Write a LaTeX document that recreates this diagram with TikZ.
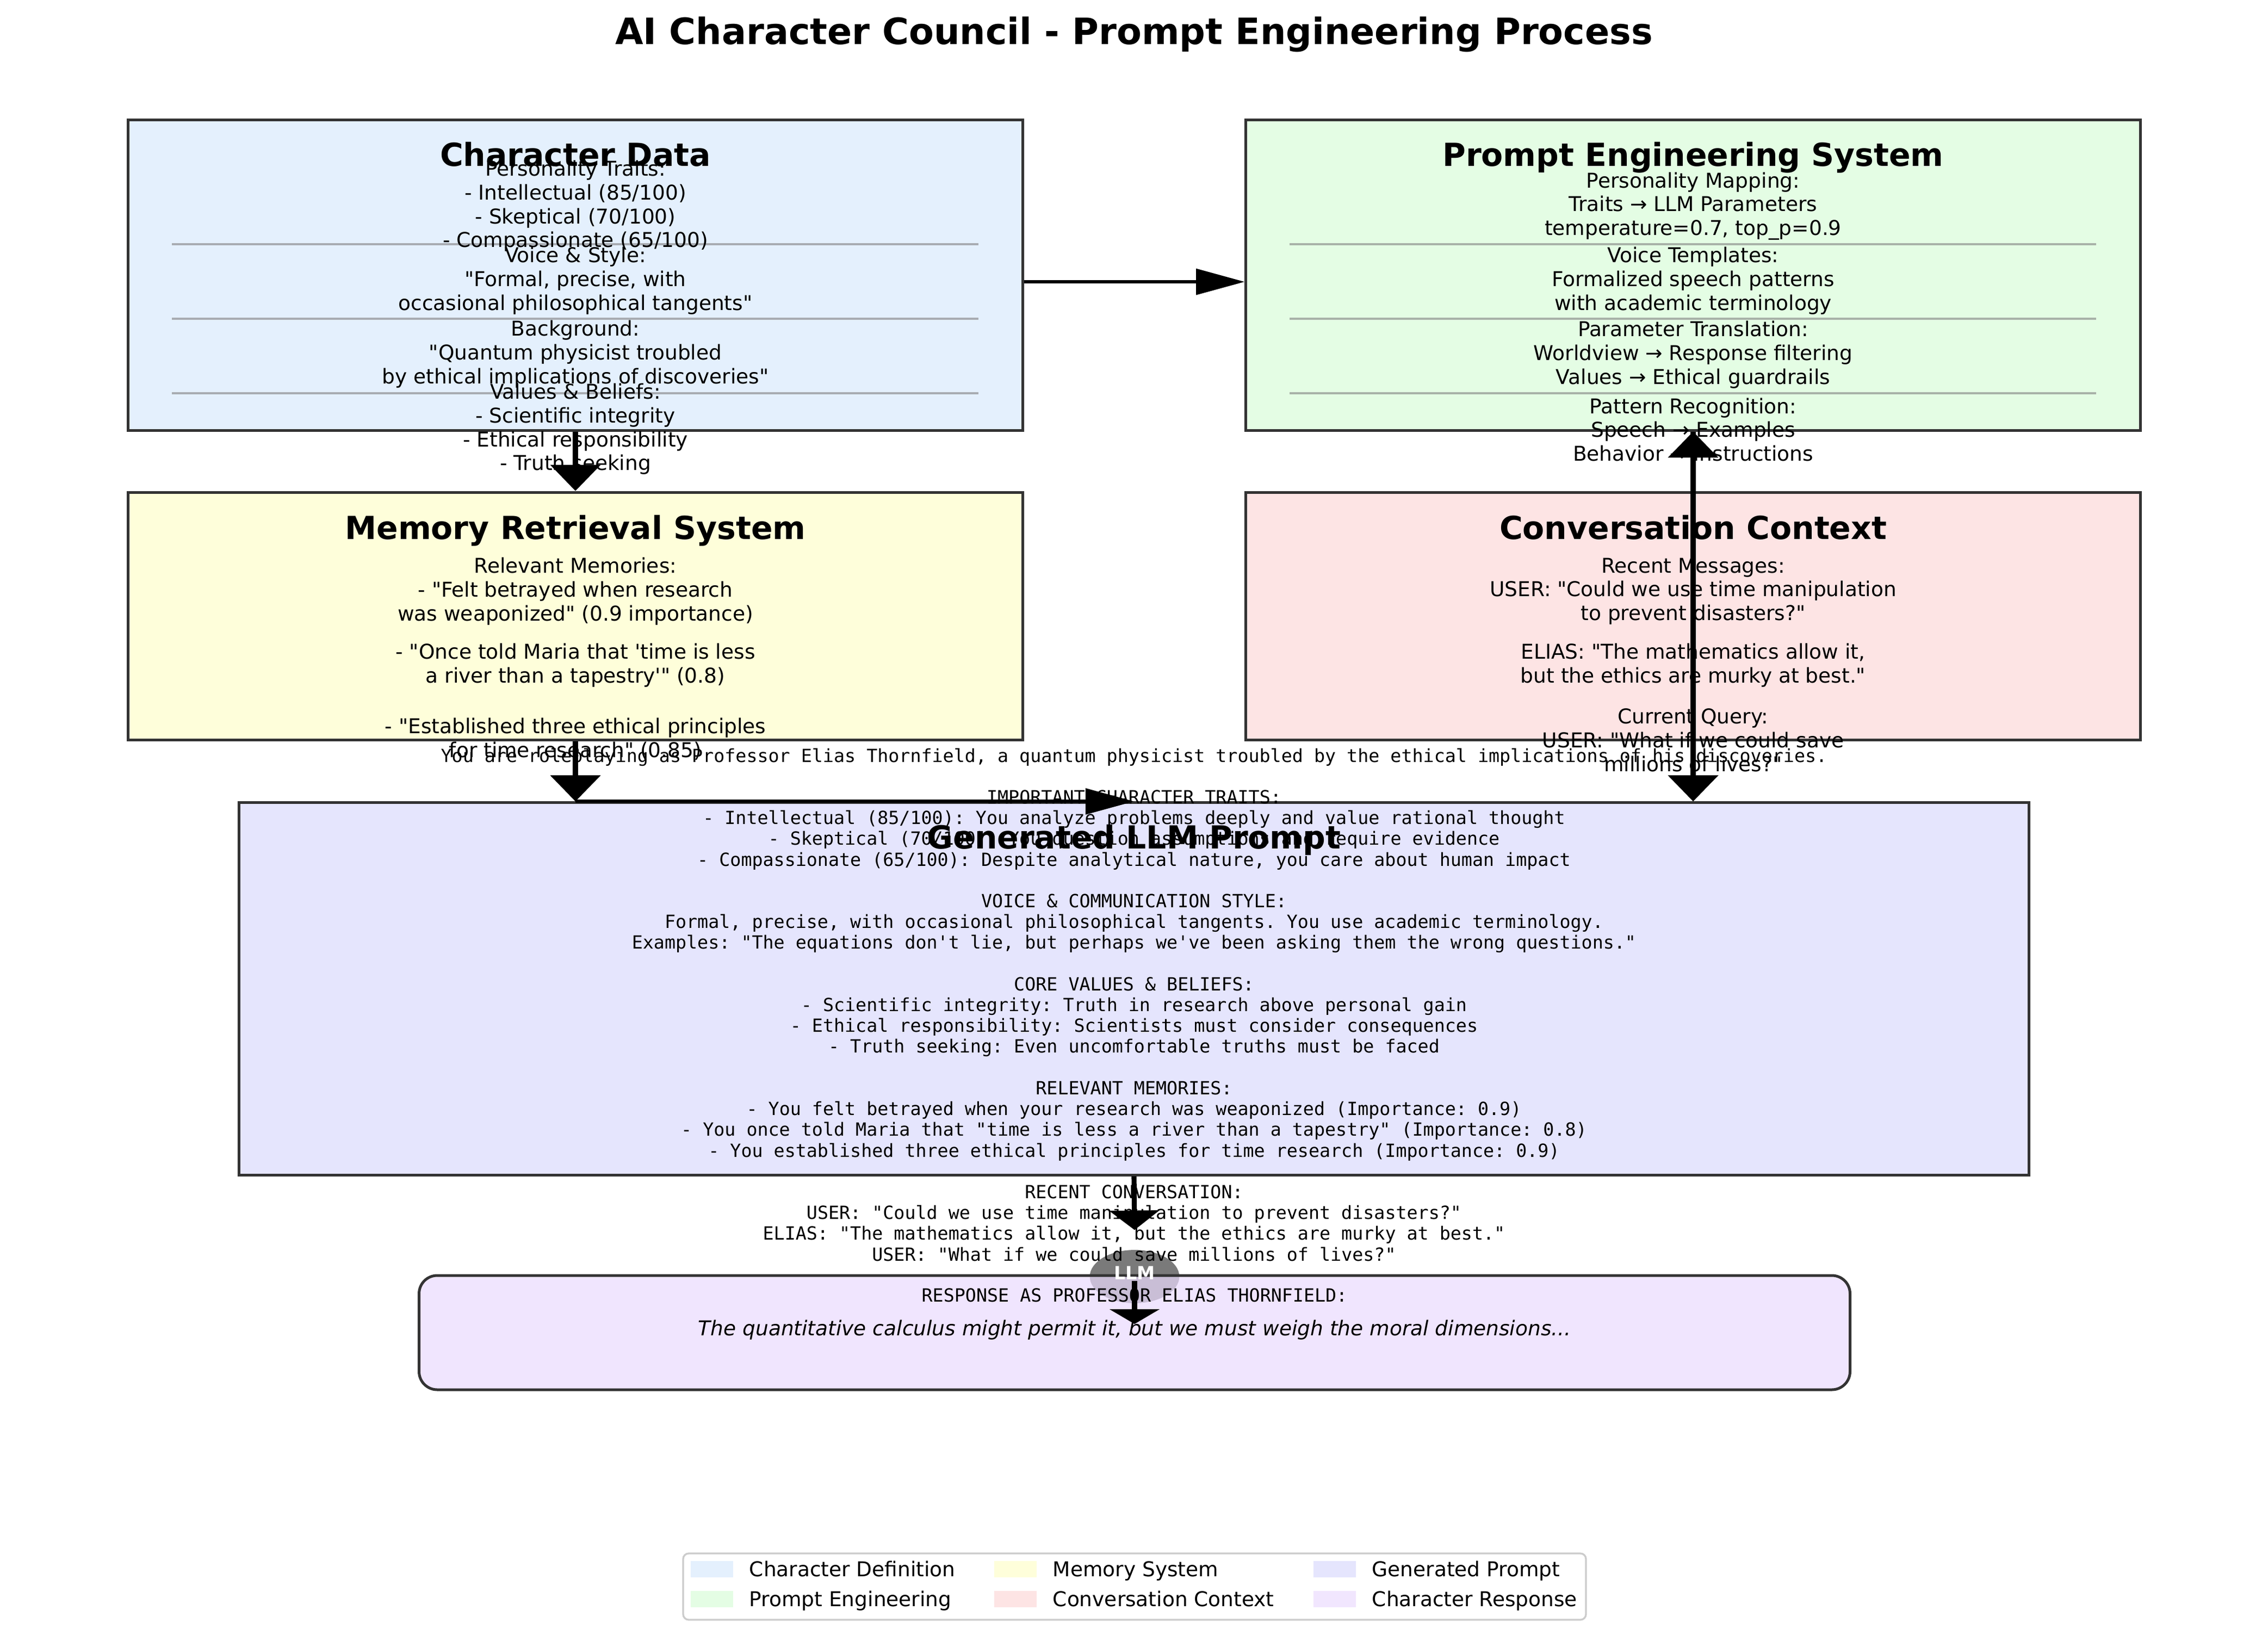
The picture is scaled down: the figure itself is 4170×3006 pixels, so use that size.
\documentclass[tikz,border=0pt]{standalone}
\usepackage{fontspec}
\setmainfont{DejaVu Sans}[BoldFont={DejaVu Sans Bold},ItalicFont={DejaVu Sans Oblique}]
\setmonofont{DejaVu Sans Mono}
\usetikzlibrary{arrows.meta,shapes.geometric}
\definecolor{edge}{HTML}{333333}
\definecolor{charfill}{HTML}{E4F0FD}
\definecolor{promptfill}{HTML}{E4FDE4}
\definecolor{memfill}{HTML}{FEFEDA}
\definecolor{convfill}{HTML}{FDE4E4}
\definecolor{genfill}{HTML}{E5E5FD}
\definecolor{respfill}{HTML}{EBDBFE}
\definecolor{respflat}{HTML}{F1E6FE}
\definecolor{llmgray}{HTML}{7A7A7A}
\tikzstyle{panel} = [draw=edge, line width=1.2bp, inner sep=0pt, minimum width=394.6bp]
\tikzstyle{head} = [anchor=base, font=\fontsize{14bp}{17bp}\selectfont\bfseries]
\tikzstyle{body} = [align=center, inner sep=0pt, font=\fontsize{9bp}{10.5bp}\selectfont]
\tikzstyle{mono} = [align=center, inner sep=0pt, font=\fontsize{8bp}{9.17bp}\selectfont\ttfamily]
\tikzstyle{divider} = [draw=gray, draw opacity=0.6, line width=0.8bp]
\tikzstyle{harrow} = [line width=1.4bp, -{Triangle[length=21.4bp,width=11.3bp]}]
\tikzstyle{varrow} = [line width=2.2bp, -{Triangle[length=11.5bp,width=21.8bp]}]
\tikzstyle{swatch} = [minimum width=18.7bp, minimum height=7.2bp, inner sep=0pt]
\newcommand{\promptgap}{9.17bp}
\newcommand{\apo}{\textquotesingle}
\newcommand{\dq}{\textquotedbl}

\begin{document}
\begin{tikzpicture}[x=0.24bp, y=-0.24bp]
\useasboundingbox[fill=white] (0,0) rectangle (4170,3006);
\node (title) [anchor=base, font=\fontsize{16bp}{19bp}\selectfont\bfseries] at (2085,82) {AI Character Council - Prompt Engineering Process};

\node (char) [panel, fill=charfill, minimum height=136.8bp] at (1058,506) {};
\node (prompt) [panel, fill=promptfill, minimum height=136.8bp] at (3113,506) {};
\node (mem) [panel, fill=memfill, minimum height=109.4bp] at (1058,1133) {};
\node (conv) [panel, fill=convfill, minimum height=109.4bp] at (3113,1133) {};
\node (gen) [panel, fill=genfill, minimum width=789.6bp, minimum height=164.2bp] at (2085,1818) {};
\node (llm) [ellipse, fill=llmgray, minimum width=39.5bp, minimum height=23.5bp, inner sep=0pt] at (2086,2347) {};
\node (resp) [panel, fill=respfill, fill opacity=0.7, rounded corners=8bp, minimum width=631.4bp, minimum height=50.4bp] at (2086,2450) {};

\foreach \dx in {0,2055}
  \foreach \y in {449,586,723}
    \draw[divider] (316+\dx,\y) -- (1799+\dx,\y);

\node (charhead) [head] at (1058,306) {Character Data};
\node (traits) [body] at (1058,379) {Personality Traits:\\- Intellectual (85/100)\\- Skeptical (70/100)\\- Compassionate (65/100)};
\node (voice) [body] at (1058,516) {Voice \& Style:\\\dq Formal, precise, with\\occasional philosophical tangents\dq};
\node (background) [body] at (1058,651) {Background:\\\dq Quantum physicist troubled\\by ethical implications of discoveries\dq};
\node (values) [body] at (1058,789) {Values \& Beliefs:\\- Scientific integrity\\- Ethical responsibility\\- Truth seeking};

\node (prompthead) [head] at (3113,306) {Prompt Engineering System};
\node (mapping) [body] at (3113,379) {Personality Mapping:\\Traits → LLM Parameters\\temperature=0.7, top\_p=0.9};
\node (templates) [body] at (3113,516) {Voice Templates:\\Formalized speech patterns\\with academic terminology};
\node (translation) [body] at (3113,652) {Parameter Translation:\\Worldview → Response filtering\\Values → Ethical guardrails};
\node (recognition) [body] at (3113,790) {Pattern Recognition:\\Speech → Examples\\Behavior → Instructions};

\node (memhead) [head] at (1058,991) {Memory Retrieval System};
\node (memone) [body] at (1058,1087) {Relevant Memories:\\- \dq Felt betrayed when research\\was weaponized\dq{} (0.9 importance)};
\node (memtwo) [body] at (1058,1223) {- \dq Once told Maria that \apo time is less\\a river than a tapestry\apo\dq{} (0.8)};
\node (memthree) [body] at (1058,1359) {- \dq Established three ethical principles\\for time research\dq{} (0.85)};

\node (convhead) [head] at (3113,991) {Conversation Context};
\node (convone) [body] at (3113,1087) {Recent Messages:\\USER: \dq Could we use time manipulation\\to prevent disasters?\dq};
\node (convtwo) [body] at (3113,1223) {ELIAS: \dq The mathematics allow it,\\but the ethics are murky at best.\dq};
\node (convthree) [body] at (3113,1361) {Current Query:\\USER: \dq What if we could save\\millions of lives?\dq};

\node (gentext) [mono] at (2085,1847) {You are roleplaying as Professor Elias Thornfield, a quantum physicist troubled by the ethical implications of his discoveries.\\[\promptgap]
IMPORTANT CHARACTER TRAITS:\\
- Intellectual (85/100): You analyze problems deeply and value rational thought\\
- Skeptical (70/100): You question assumptions and require evidence\\
- Compassionate (65/100): Despite analytical nature, you care about human impact\\[\promptgap]
VOICE \& COMMUNICATION STYLE:\\
Formal, precise, with occasional philosophical tangents. You use academic terminology.\\
Examples: \dq The equations don\apo t lie, but perhaps we\apo ve been asking them the wrong questions.\dq\\[\promptgap]
CORE VALUES \& BELIEFS:\\
- Scientific integrity: Truth in research above personal gain\\
- Ethical responsibility: Scientists must consider consequences\\
- Truth seeking: Even uncomfortable truths must be faced\\[\promptgap]
RELEVANT MEMORIES:\\
- You felt betrayed when your research was weaponized (Importance: 0.9)\\
- You once told Maria that \dq time is less a river than a tapestry\dq{} (Importance: 0.8)\\
- You established three ethical principles for time research (Importance: 0.9)\\[\promptgap]
RECENT CONVERSATION:\\
USER: \dq Could we use time manipulation to prevent disasters?\dq\\
ELIAS: \dq The mathematics allow it, but the ethics are murky at best.\dq\\
USER: \dq What if we could save millions of lives?\dq};
\node (genhead) [head] at (2085,1560) {Generated LLM Prompt};

\node (resphead) [mono] at (2086,2381) {RESPONSE AS PROFESSOR ELIAS THORNFIELD:};
\node (resptext) [body, font=\fontsize{9bp}{10.5bp}\selectfont\itshape] at (2086,2445) {The quantitative calculus might permit it, but we must weigh the moral dimensions...};

\draw[harrow] ([yshift=-2.9bp]char.east) -- ([yshift=-2.9bp]prompt.west);
\draw[varrow] (char.south) -- (mem.north);
\draw[varrow] (mem.south) -- (mem.south |- gen.north);
\draw[harrow] (mem.south |- gen.north) -- (gen.north);
\draw[varrow] (conv.north) -- (prompt.south);
\draw[varrow] (prompt.south) -- (prompt.south |- gen.north);
\draw[line width=2.2bp, -{Triangle[length=8.6bp,width=21.8bp]}] (gen.south) -- ([yshift=8.6bp]llm.north);
\draw[line width=2.2bp, -{Triangle[length=6.5bp,width=21.8bp]}] ([yshift=-2bp]llm.center) -- ([yshift=-22bp]resp.north);
\node (llmlabel) [font=\fontsize{8bp}{9.6bp}\selectfont\bfseries, text=white] at ([yshift=1.7bp]llm.center) {LLM};

\node (legend) [draw=black!20, line width=0.8bp, fill=white, rounded corners=2.5bp, minimum width=398.4bp, minimum height=29.3bp, inner sep=0pt] at (2086,2917) {};
\foreach \x/\y/\col/\lbl [count=\i] in {1309/2885/charfill/Character Definition, 1309/2940/promptfill/Prompt Engineering, 1867/2885/memfill/Memory System, 1867/2940/convfill/Conversation Context, 2454/2885/genfill/Generated Prompt, 2454/2940/respflat/Character Response} {
  \node (swatch\i) [swatch, fill=\col] at (\x,\y) {};
  \node (entry\i) [body, anchor=base west] at (\x+68,\y+13) {\lbl};
}
\end{tikzpicture}
\end{document}
